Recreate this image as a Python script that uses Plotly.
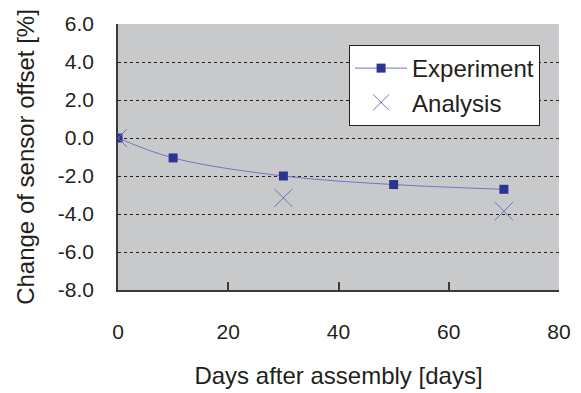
import plotly.graph_objects as go

exp_days = [0, 10, 30, 50, 70]
exp_vals = [0.0, -1.05, -2.0, -2.45, -2.7]
ana_days = [0, 30, 70]
ana_vals = [0.0, -3.15, -3.85]

x_ticks = [0, 20, 40, 60, 80]
y_ticks = [-8, -6, -4, -2, 0, 2, 4, 6]
y_tick_text = [f"{v:.1f}" for v in y_ticks]

font_family = "Liberation Sans, Arial, sans-serif"

fig = go.Figure()
fig.add_trace(go.Scatter(
    x=exp_days, y=exp_vals, name="Experiment", mode="lines+markers",
    line=dict(color="#7376c0", width=1, shape="spline", smoothing=1.0),
    marker=dict(symbol="square", size=9, color="#2b3491"),
    legendgroup="a",
))
fig.add_trace(go.Scatter(
    x=ana_days, y=ana_vals, name="Analysis", mode="markers",
    marker=dict(symbol="x-thin", size=18, line=dict(color="#6f72bd", width=1), color="#6f72bd"),
    legendgroup="b",
))

fig.update_layout(
    width=581, height=393,
    margin=dict(l=118, r=22, t=24, b=103),
    paper_bgcolor="white", plot_bgcolor="#c8c9cb",
    font=dict(family=font_family, size=21, color="#231f20"),
    showlegend=True,
    legend=dict(
        x=0.524, y=0.921, xanchor="left", yanchor="top",
        bgcolor="white", bordercolor="#231f20", borderwidth=1,
        font=dict(size=24), tracegroupgap=0, traceorder="grouped",
        itemwidth=52,
    ),
    xaxis=dict(
        range=[0, 80], tickvals=x_ticks, showgrid=False, zeroline=False,
        showline=True, linecolor="#3a3a3a", linewidth=1.5,
        ticks="inside", ticklen=8, tickcolor="#3a3a3a", tickwidth=1.5,
        ticklabelstandoff=22, automargin=False,
        title=dict(text="Days after assembly [days]", font=dict(size=24), standoff=25),
    ),
    yaxis=dict(
        range=[-8, 6], tickvals=y_ticks, ticktext=y_tick_text,
        showgrid=True, gridcolor="#231f20", griddash="dot", gridwidth=1,
        zeroline=False, showline=True, linecolor="#3a3a3a", linewidth=1.5,
        ticks="", ticklabelstandoff=18, automargin=False,
        title=dict(text="Change of sensor offset [%]", font=dict(size=24), standoff=16),
    ),
)

fig.write_html("out.html", config={"displayModeBar": False},
               post_script="document.body.style.margin='0';")
